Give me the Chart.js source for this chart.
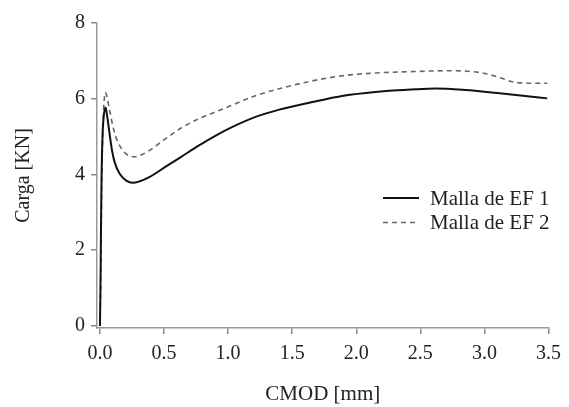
<!DOCTYPE html>
<html>
<head>
<meta charset="utf-8">
<script src="https://cdn.jsdelivr.net/npm/chart.js@4/dist/chart.umd.min.js"></script>
<style>
  html, body { margin: 0; padding: 0; background: #fff; }
  #wrap { width: 569px; height: 407px; }
</style>
</head>
<body>
<div id="wrap"><canvas id="grafico" width="569" height="407"></canvas></div>
<script>
// Datos
const cmod1 = [0, 0.004, 0.008, 0.012, 0.02, 0.03, 0.044, 0.058, 0.077, 0.095, 0.115, 0.154, 0.205, 0.256, 0.31, 0.385, 0.51, 0.64, 0.77, 0.9, 1.03, 1.23, 1.385, 1.64, 1.9, 2.15, 2.46, 2.62, 2.85, 3.1, 3.3, 3.49];
const carga1 = [0, 1.0, 2.5, 3.8, 5.0, 5.55, 5.77, 5.5, 5.03, 4.62, 4.32, 4.02, 3.84, 3.78, 3.82, 3.93, 4.2, 4.48, 4.76, 5.02, 5.25, 5.54, 5.70, 5.90, 6.08, 6.18, 6.25, 6.27, 6.23, 6.15, 6.08, 6.01];

const cmod2 = [0, 0.005, 0.01, 0.015, 0.022, 0.03, 0.042, 0.055, 0.075, 0.1, 0.125, 0.154, 0.205, 0.28, 0.33, 0.385, 0.51, 0.64, 0.77, 0.9, 1.03, 1.23, 1.385, 1.64, 1.9, 2.15, 2.46, 2.72, 2.97, 3.1, 3.23, 3.35, 3.49];
const carga2 = [0, 1.0, 2.5, 4.0, 5.1, 5.8, 6.17, 6.05, 5.7, 5.29, 4.98, 4.76, 4.54, 4.47, 4.53, 4.63, 4.94, 5.24, 5.47, 5.65, 5.83, 6.1, 6.25, 6.46, 6.61, 6.68, 6.72, 6.74, 6.69, 6.58, 6.44, 6.41, 6.41];

const xTicks = [0, 0.5, 1.0, 1.5, 2.0, 2.5, 3.0, 3.5];
const yTicks = [0, 2, 4, 6, 8];

const series = ['Malla de EF 1', 'Malla de EF 2'];

const fuente = '"Liberation Serif", "Times New Roman", serif';

function toPoints(xs, ys) {
    return xs.map((x, i) => ({ x: x, y: ys[i] }));
}

// Leyenda dibujada a mano dentro del area del grafico
const leyenda = {
    id: 'leyenda',
    afterDraw(chart) {
        const ctx = chart.ctx;
        ctx.save();
        ctx.font = '21px ' + fuente;
        ctx.fillStyle = '#222';
        ctx.textBaseline = 'middle';
        chart.data.datasets.forEach((ds, i) => {
            const y = 198 + i * 24.5;
            ctx.strokeStyle = ds.borderColor;
            ctx.lineWidth = ds.borderWidth;
            ctx.setLineDash(ds.borderDash || []);
            ctx.beginPath();
            ctx.moveTo(383, y);
            ctx.lineTo(419, y);
            ctx.stroke();
            ctx.setLineDash([]);
            ctx.fillText(ds.label, 430, y + 1);
        });
        ctx.restore();
    }
};

const ctx = document.getElementById('grafico').getContext('2d');
new Chart(ctx, {
    type: 'scatter',
    data: {
        datasets: [
            {
                label: series[0],
                data: toPoints(cmod1, carga1),
                showLine: true,
                borderColor: '#111',
                borderWidth: 2,
                pointRadius: 0,
                cubicInterpolationMode: 'monotone'
            },
            {
                label: series[1],
                data: toPoints(cmod2, carga2),
                showLine: true,
                borderColor: '#666',
                borderWidth: 1.6,
                borderDash: [5, 4],
                pointRadius: 0,
                cubicInterpolationMode: 'monotone'
            }
        ]
    },
    options: {
        responsive: false,
        animation: false,
        events: [],
        layout: {
            autoPadding: false,
            padding: { top: 23, right: 16, left: 0, bottom: 0 }
        },
        plugins: {
            legend: { display: false },
            tooltip: { enabled: false }
        },
        scales: {
            x: {
                type: 'linear',
                min: -0.023,
                max: 3.5,
                afterFit: function(scale) { scale.height = 79; },
                afterBuildTicks: function(scale) {
                    scale.ticks = xTicks.map(v => ({ value: v }));
                },
                ticks: {
                    color: '#222',
                    padding: 8,
                    maxRotation: 0,
                    font: { family: fuente, size: 20 },
                    callback: v => Number(v).toFixed(1)
                },
                grid: { drawOnChartArea: false, drawTicks: true, tickLength: 6, color: '#888', lineWidth: 1.5 },
                border: { color: '#999', width: 1.5 },
                title: {
                    display: true,
                    text: 'CMOD [mm]',
                    color: '#222',
                    font: { family: fuente, size: 21 },
                    padding: { top: 0, bottom: 0 }
                }
            },
            y: {
                type: 'linear',
                min: -0.053,
                max: 8,
                afterFit: function(scale) { scale.width = 97; },
                afterBuildTicks: function(scale) {
                    scale.ticks = yTicks.map(v => ({ value: v }));
                },
                ticks: {
                    color: '#222',
                    padding: 6,
                    font: { family: fuente, size: 20 },
                    callback: v => String(v)
                },
                grid: { drawOnChartArea: false, drawTicks: true, tickLength: 6, color: '#888', lineWidth: 1.5 },
                border: { color: '#999', width: 1.5 },
                title: {
                    display: true,
                    text: 'Carga [KN]',
                    color: '#222',
                    font: { family: fuente, size: 20 },
                    padding: { top: 12, bottom: 0 }
                }
            }
        }
    },
    plugins: [leyenda]
});
</script>
</body>
</html>
